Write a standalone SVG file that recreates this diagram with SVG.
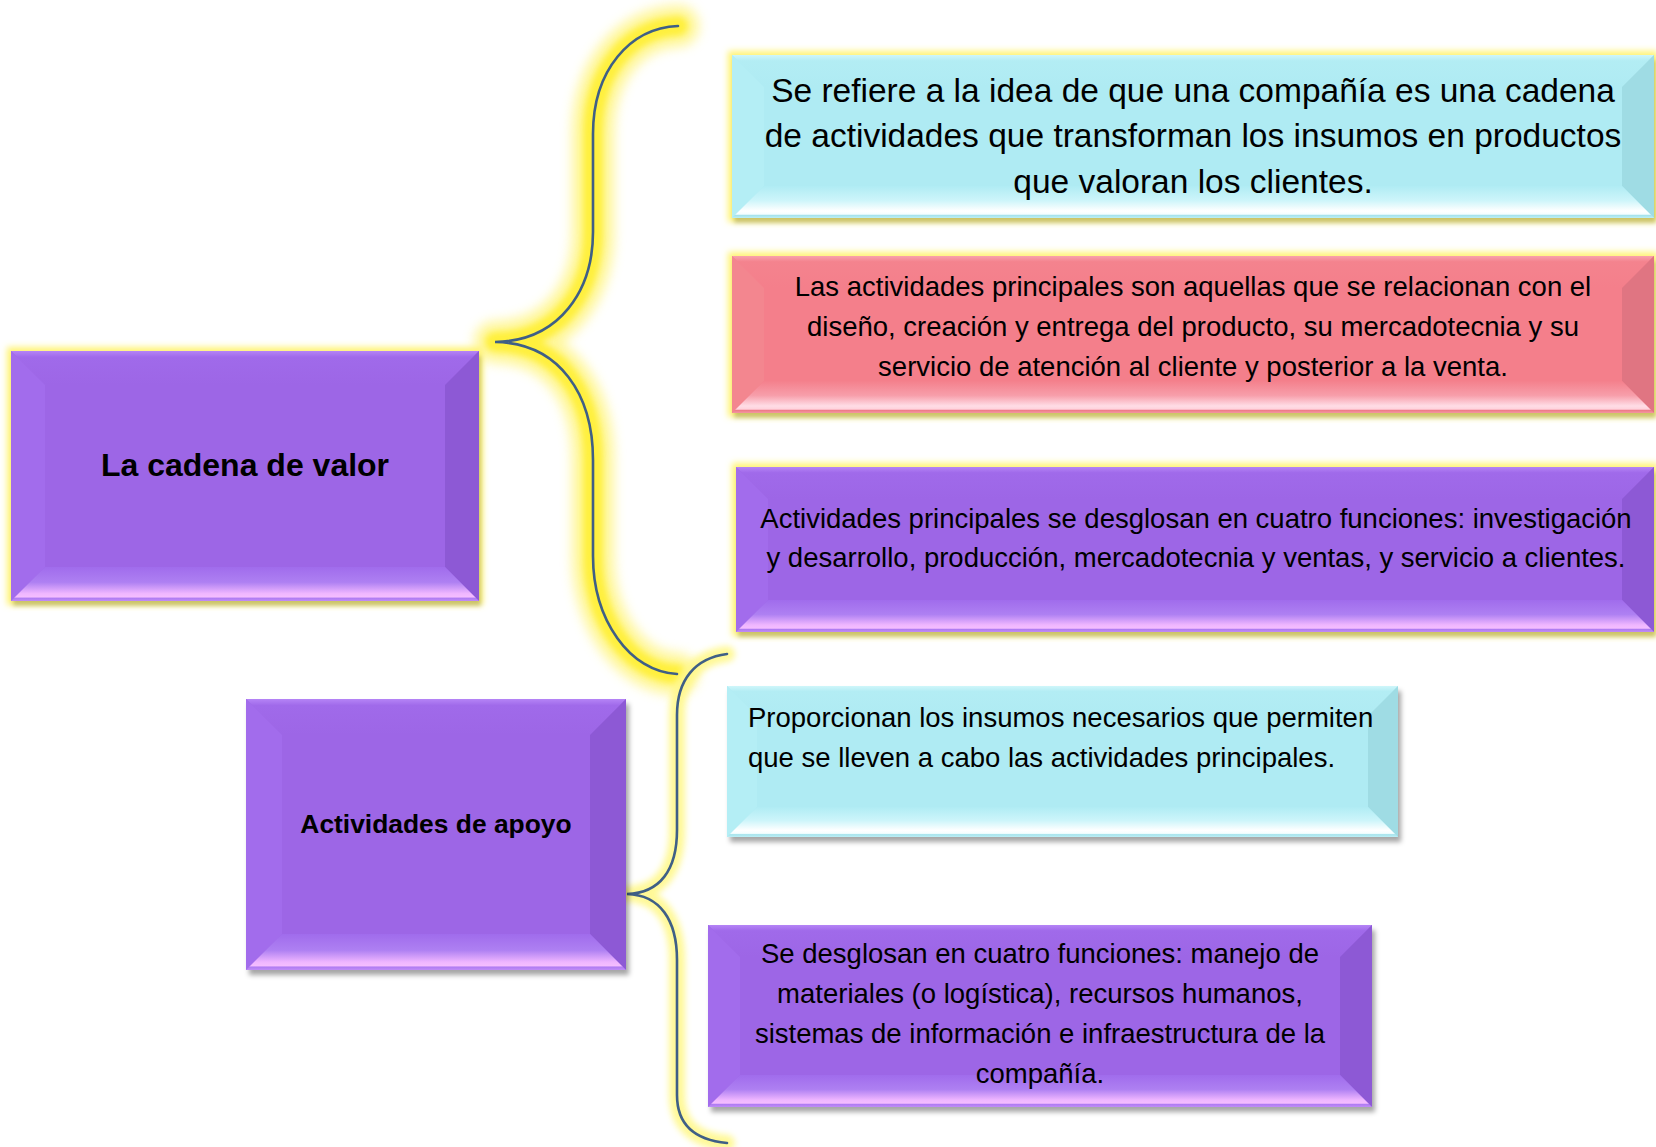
<svg xmlns="http://www.w3.org/2000/svg" width="1656" height="1147" viewBox="0 0 1656 1147">
<style>
.t{font-family:"Liberation Sans",Arial,sans-serif;fill:#000;}
.big{font-size:33.5px;text-anchor:middle;}
.body{font-size:27.5px;text-anchor:middle;}
.left{font-size:27.5px;text-anchor:start;}
.hd{font-weight:bold;text-anchor:middle;}
.p-main{fill:#9D66E6;} .p-top{fill:url(#pTop);} .p-left{fill:#A26CEC;} .p-right{fill:#8D59D5;} .p-bot{fill:url(#pBot);}
.c-main{fill:#AFEBF3;} .c-top{fill:url(#cTop);} .c-left{fill:#B4EEF5;} .c-right{fill:#9FDCE4;} .c-bot{fill:url(#cBot);}
.r-main{fill:#F47F8B;} .r-top{fill:url(#rTop);} .r-left{fill:#F3868F;} .r-right{fill:#E07582;} .r-bot{fill:url(#rBot);}
.brace{fill:none;stroke:#3F5F86;stroke-width:2.6;stroke-linecap:round;}
.glow1o{fill:none;stroke:#FFF47A;stroke-width:42;stroke-linecap:round;stroke-linejoin:round;opacity:0.75;filter:url(#blurL);}
.glow1i{fill:none;stroke:#FFF03C;stroke-width:20;stroke-linecap:round;stroke-linejoin:round;opacity:1;filter:url(#blurS);}
.glow2{fill:none;stroke:#FFF88C;stroke-width:16;stroke-linecap:round;stroke-linejoin:round;opacity:0.9;filter:url(#blurS);}
</style>
<defs>
<linearGradient id="pTop" x1="0" y1="0" x2="0" y2="1"><stop offset="0" stop-color="#B584F6"/><stop offset="0.18" stop-color="#A06AEA"/><stop offset="1" stop-color="#9D66E6"/></linearGradient>
<linearGradient id="pBot" x1="0" y1="0" x2="0" y2="1"><stop offset="0" stop-color="#A06CEC"/><stop offset="0.45" stop-color="#AE80F2"/><stop offset="0.78" stop-color="#EFB6FF"/><stop offset="0.88" stop-color="#F4BDFF"/><stop offset="0.92" stop-color="#B07CF2"/><stop offset="1" stop-color="#C08CF6"/></linearGradient>
<linearGradient id="cTop" x1="0" y1="0" x2="0" y2="1"><stop offset="0" stop-color="#CFF6FA"/><stop offset="0.18" stop-color="#B3EDF4"/><stop offset="1" stop-color="#AFEBF3"/></linearGradient>
<linearGradient id="cBot" x1="0" y1="0" x2="0" y2="1"><stop offset="0" stop-color="#B0ECF4"/><stop offset="0.45" stop-color="#CDF5FA"/><stop offset="0.78" stop-color="#FFFFFF"/><stop offset="0.88" stop-color="#F4FEFF"/><stop offset="0.92" stop-color="#A6E3EC"/><stop offset="1" stop-color="#BDEFF5"/></linearGradient>
<linearGradient id="rTop" x1="0" y1="0" x2="0" y2="1"><stop offset="0" stop-color="#F9A2AC"/><stop offset="0.18" stop-color="#F4838E"/><stop offset="1" stop-color="#F47F8B"/></linearGradient>
<linearGradient id="rBot" x1="0" y1="0" x2="0" y2="1"><stop offset="0" stop-color="#F4808C"/><stop offset="0.45" stop-color="#F79EAA"/><stop offset="0.78" stop-color="#FFDDE6"/><stop offset="0.88" stop-color="#FFD2DC"/><stop offset="0.92" stop-color="#EE7C88"/><stop offset="1" stop-color="#F496A2"/></linearGradient>
<filter id="glowBox" x="-5%" y="-15%" width="110%" height="130%">
<feMorphology in="SourceAlpha" operator="dilate" radius="4" result="d"/>
<feGaussianBlur in="d" stdDeviation="3" result="db"/>
<feFlood flood-color="#FFF36E" flood-opacity="0.95"/>
<feComposite in2="db" operator="in" result="g"/>
<feOffset in="SourceAlpha" dx="2" dy="5" result="o"/>
<feGaussianBlur in="o" stdDeviation="2" result="ob"/>
<feFlood flood-color="#3A3A10" flood-opacity="0.4"/>
<feComposite in2="ob" operator="in" result="sh"/>
<feMerge><feMergeNode in="g"/><feMergeNode in="sh"/><feMergeNode in="SourceGraphic"/></feMerge>
</filter>
<filter id="shadowBox" x="-5%" y="-10%" width="110%" height="125%">
<feOffset in="SourceAlpha" dx="3" dy="5" result="o"/>
<feGaussianBlur in="o" stdDeviation="2.5" result="ob"/>
<feFlood flood-color="#000" flood-opacity="0.35"/>
<feComposite in2="ob" operator="in" result="sh"/>
<feMerge><feMergeNode in="sh"/><feMergeNode in="SourceGraphic"/></feMerge>
</filter>
<filter id="blurL" x="-40%" y="-15%" width="180%" height="130%"><feGaussianBlur stdDeviation="6"/></filter>
<filter id="blurS" x="-40%" y="-15%" width="180%" height="130%"><feGaussianBlur stdDeviation="3"/></filter>
</defs>
<rect width="1656" height="1147" fill="#FFFFFF"/>

<g id="connectors">
<path class="glow1o" d="M 678 26 C 630 28, 593 70, 593 134 L 593 232 C 593 290, 560 341, 495 342 C 560 343, 593 395, 593 460 L 593 556 C 593 620, 630 672, 677 674"/>
<path class="glow1i" d="M 678 26 C 630 28, 593 70, 593 134 L 593 232 C 593 290, 560 341, 495 342 C 560 343, 593 395, 593 460 L 593 556 C 593 620, 630 672, 677 674"/>
<path class="glow2" d="M 727 654 C 695 658, 677 680, 677 715 L 677 830 C 677 870, 660 893, 627 894 C 660 895, 677 920, 677 960 L 677 1095 C 677 1125, 695 1140, 727 1143"/>
<path id="brace1" class="brace" d="M 678 26 C 630 28, 593 70, 593 134 L 593 232 C 593 290, 560 341, 495 342 C 560 343, 593 395, 593 460 L 593 556 C 593 620, 630 672, 677 674"/>
<path id="brace2" class="brace" d="M 727 654 C 695 658, 677 680, 677 715 L 677 830 C 677 870, 660 893, 627 894 C 660 895, 677 920, 677 960 L 677 1095 C 677 1125, 695 1140, 727 1143"/>
</g>

<g id="node-cadena">
<rect x="11" y="351" width="468" height="250" class="p-main" filter="url(#glowBox)"/>
<polygon class="p-top" points="11,351 479,351 445,385 45,385"/>
<polygon class="p-left" points="11,351 45,385 45,567 11,601"/>
<polygon class="p-right" points="479,351 479,601 445,567 445,385"/>
<polygon class="p-bot" points="11,601 45,567 445,567 479,601"/>
<text class="t hd" x="245" y="476" font-size="32">La cadena de valor</text>
</g>

<g id="node-apoyo">
<rect x="246" y="699" width="380" height="271" class="p-main" filter="url(#shadowBox)"/>
<polygon class="p-top" points="246,699 626,699 590,735 282,735"/>
<polygon class="p-left" points="246,699 282,735 282,934 246,970"/>
<polygon class="p-right" points="626,699 626,970 590,934 590,735"/>
<polygon class="p-bot" points="246,970 282,934 590,934 626,970"/>
<text class="t hd" x="436" y="833" font-size="26.4">Actividades de apoyo</text>
</g>

<g id="node-definicion">
<rect x="732" y="55" width="922" height="163" class="c-main" filter="url(#glowBox)"/>
<polygon class="c-top" points="732,55 1654,55 1622,87 764,87"/>
<polygon class="c-left" points="732,55 764,87 764,186 732,218"/>
<polygon class="c-right" points="1654,55 1654,218 1622,186 1622,87"/>
<polygon class="c-bot" points="732,218 764,186 1622,186 1654,218"/>
<text class="t big" x="1193" y="102">Se refiere a la idea de que una compañía es una cadena</text>
<text class="t big" x="1193" y="147">de actividades que transforman los insumos en productos</text>
<text class="t big" x="1193" y="193">que valoran los clientes.</text>
</g>

<g id="node-principales">
<rect x="732" y="256" width="922" height="157" class="r-main" filter="url(#glowBox)"/>
<polygon class="r-top" points="732,256 1654,256 1622,288 764,288"/>
<polygon class="r-left" points="732,256 764,288 764,381 732,413"/>
<polygon class="r-right" points="1654,256 1654,413 1622,381 1622,288"/>
<polygon class="r-bot" points="732,413 764,381 1622,381 1654,413"/>
<text class="t body" x="1193" y="296">Las actividades principales son aquellas que se relacionan con el</text>
<text class="t body" x="1193" y="336">diseño, creación y entrega del producto, su mercadotecnia y su</text>
<text class="t body" x="1193" y="376">servicio de atención al cliente y posterior a la venta.</text>
</g>

<g id="node-funciones-principales">
<rect x="736" y="467" width="918" height="165" class="p-main" filter="url(#glowBox)"/>
<polygon class="p-top" points="736,467 1654,467 1622,499 768,499"/>
<polygon class="p-left" points="736,467 768,499 768,600 736,632"/>
<polygon class="p-right" points="1654,467 1654,632 1622,600 1622,499"/>
<polygon class="p-bot" points="736,632 768,600 1622,600 1654,632"/>
<text class="t body" x="1196" y="528">Actividades principales se desglosan en cuatro funciones: investigación</text>
<text class="t body" x="1196" y="567">y desarrollo, producción, mercadotecnia y ventas, y servicio a clientes.</text>
</g>

<g id="node-insumos">
<rect x="727" y="686" width="671" height="151" class="c-main" filter="url(#shadowBox)"/>
<polygon class="c-top" points="727,686 1398,686 1368,716 757,716"/>
<polygon class="c-left" points="727,686 757,716 757,807 727,837"/>
<polygon class="c-right" points="1398,686 1398,837 1368,807 1368,716"/>
<polygon class="c-bot" points="727,837 757,807 1368,807 1398,837"/>
<text class="t left" x="748" y="727">Proporcionan los insumos necesarios que permiten</text>
<text class="t left" x="748" y="767">que se lleven a cabo las actividades principales.</text>
</g>

<g id="node-funciones-apoyo">
<rect x="708" y="925" width="664" height="182" class="p-main" filter="url(#shadowBox)"/>
<polygon class="p-top" points="708,925 1372,925 1340,957 740,957"/>
<polygon class="p-left" points="708,925 740,957 740,1075 708,1107"/>
<polygon class="p-right" points="1372,925 1372,1107 1340,1075 1340,957"/>
<polygon class="p-bot" points="708,1107 740,1075 1340,1075 1372,1107"/>
<text class="t body" x="1040" y="963">Se desglosan en cuatro funciones: manejo de</text>
<text class="t body" x="1040" y="1003">materiales (o logística), recursos humanos,</text>
<text class="t body" x="1040" y="1043">sistemas de información e infraestructura de la</text>
<text class="t body" x="1040" y="1083">compañía.</text>
</g>
</svg>
